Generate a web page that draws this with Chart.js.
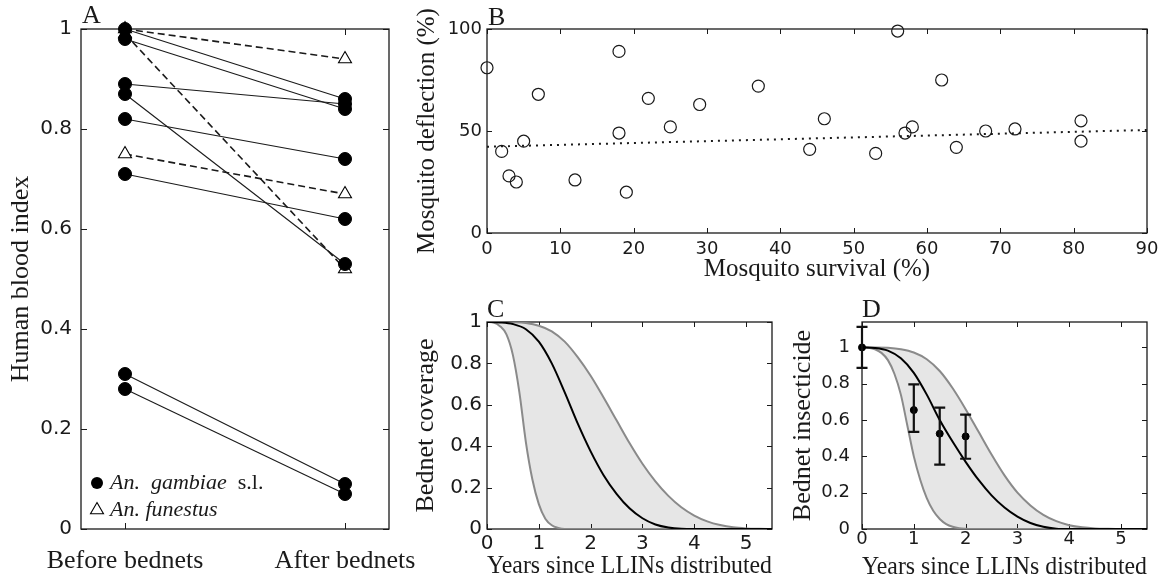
<!DOCTYPE html>
<html><head><meta charset="utf-8">
<script src="https://cdn.jsdelivr.net/npm/chart.js@4/dist/chart.umd.min.js"></script>
<style>
html,body{margin:0;padding:0;background:#fff;}
body{width:1164px;height:578px;position:relative;overflow:hidden;}
canvas{position:absolute;}
</style></head><body>
<canvas id="cA" width="430" height="578" style="left:0;top:0"></canvas>
<canvas id="cB" width="764" height="290" style="left:400px;top:0"></canvas>
<canvas id="cC" width="390" height="288" style="left:400px;top:290px"></canvas>
<canvas id="cD" width="384" height="288" style="left:780px;top:290px"></canvas>
<script>
// ---------- Panel A data ----------
const periodLabels = ['Before bednets', 'After bednets'];
const gambiaeBefore = [1.00, 0.98, 0.89, 0.87, 0.82, 0.71, 0.31, 0.28];
const gambiaeAfter  = [0.86, 0.84, 0.85, 0.53, 0.74, 0.62, 0.09, 0.07];
const funestusBefore = [1.00, 0.99, 0.75];
const funestusAfter  = [0.94, 0.52, 0.67];
const hbiTicks = [0, 0.2, 0.4, 0.6, 0.8, 1];

// ---------- Panel B data ----------
const survival   = [0, 2, 3, 4, 5, 7, 12, 18, 18, 19, 22, 25, 29, 37, 44, 46, 53, 56, 57, 58, 62, 64, 68, 72, 81, 81];
const deflection = [81, 40, 28, 25, 45, 68, 26, 89, 49, 20, 66, 52, 63, 72, 41, 56, 39, 99, 49, 52, 75, 42, 50, 51, 55, 45];
const trendSurvival = [0, 90];
const trendDeflection = [42.3, 50.5];
const survivalTicks = [0, 10, 20, 30, 40, 50, 60, 70, 80, 90];
const deflectionTicks = [0, 50, 100];

// ---------- Panels C & D data ----------
const yearsFine = [0, 0.125, 0.25, 0.375, 0.5, 0.625, 0.75, 0.875, 1, 1.125, 1.25, 1.375, 1.5, 1.625, 1.75, 1.875, 2, 2.125, 2.5, 3, 3.5, 4, 4.5, 5, 5.5];
const yearsCoarse = [0, 0.25, 0.5, 0.75, 1, 1.25, 1.5, 1.75, 2, 2.25, 2.5, 2.75, 3, 3.25, 3.5, 3.75, 4, 4.25, 4.5, 4.75, 5, 5.25, 5.5];
const coverageLow  = [1, 0.997, 0.98, 0.94, 0.84, 0.66, 0.42, 0.24, 0.12, 0.05, 0.018, 0.005, 0, 0, 0, 0, 0, 0, 0, 0, 0, 0, 0, 0, 0];
const coverageMean = [1, 0.998, 0.99, 0.965, 0.905, 0.80, 0.66, 0.51, 0.375, 0.26, 0.17, 0.10, 0.052, 0.022, 0.007, 0.001, 0, 0, 0, 0, 0, 0, 0];
const coverageHigh = [1, 1, 0.999, 0.995, 0.982, 0.955, 0.905, 0.83, 0.74, 0.635, 0.525, 0.415, 0.315, 0.23, 0.16, 0.105, 0.065, 0.037, 0.019, 0.008, 0.003, 0.001, 0];
const insecticideLow  = [1, 0.998, 0.99, 0.97, 0.93, 0.855, 0.74, 0.57, 0.40, 0.27, 0.17, 0.10, 0.055, 0.027, 0.012, 0.004, 0.001, 0, 0, 0, 0, 0, 0, 0, 0];
const insecticideMean = [1, 0.997, 0.982, 0.94, 0.86, 0.74, 0.60, 0.48, 0.37, 0.27, 0.185, 0.118, 0.068, 0.033, 0.012, 0.002, 0, 0, 0, 0, 0, 0, 0];
const insecticideHigh = [1, 1, 0.998, 0.99, 0.972, 0.935, 0.87, 0.775, 0.66, 0.535, 0.41, 0.295, 0.2, 0.13, 0.078, 0.043, 0.021, 0.009, 0.003, 0.001, 0, 0, 0];
const obsYears = [0, 1, 1.5, 2];
const obsInsecticide = [1.0, 0.655, 0.525, 0.51];
const obsLow  = [0.887, 0.535, 0.355, 0.387];
const obsHigh = [1.113, 0.797, 0.668, 0.63];
const yearTicks = [0, 1, 2, 3, 4, 5];
const fractionTicks = [0, 0.2, 0.4, 0.6, 0.8, 1];

// ---------- helpers ----------
const SERIF = '"Liberation Serif","Times New Roman",serif';
const SANS = '"DejaVu Sans",Verdana,sans-serif';
const INK = '#1a1a1a';
const fmt = v => String(Math.round(v * 100) / 100);
const pts = (xs, ys) => xs.map((x, i) => ({x, y: ys[i]}));

function fixed(size, horizontal) {
  return s => {
    if (horizontal) s.height = size; else s.width = size;
    s.paddingLeft = 0; s.paddingRight = 0; s.paddingTop = 0; s.paddingBottom = 0;
  };
}
const useTicks = values => s => { s.ticks = values.map(v => ({value: v})); };

const frameTicks = {
  id: 'frameTicks',
  beforeDatasetsDraw(chart, args, o) {
    const {ctx, chartArea: a, scales} = chart;
    const L = o.len || 5;
    ctx.save();
    ctx.strokeStyle = INK;
    ctx.lineWidth = 1;
    ctx.beginPath();
    scales.x.ticks.forEach((t, i) => {
      const p = Math.round(scales.x.getPixelForTick(i)) + 0.5;
      ctx.moveTo(p, a.bottom); ctx.lineTo(p, a.bottom - L);
      ctx.moveTo(p, a.top); ctx.lineTo(p, a.top + L);
    });
    scales.y.ticks.forEach((t, i) => {
      const p = Math.round(scales.y.getPixelForTick(i)) + 0.5;
      ctx.moveTo(a.left, p); ctx.lineTo(a.left + L, p);
      ctx.moveTo(a.right, p); ctx.lineTo(a.right - L, p);
    });
    ctx.stroke();
    ctx.lineWidth = 1.3;
    ctx.strokeRect(a.left, a.top, a.right - a.left, a.bottom - a.top);
    ctx.restore();
  }
};

const panelLetter = {
  id: 'panelLetter',
  afterDraw(chart, args, o) {
    const {ctx, chartArea: a} = chart;
    ctx.save();
    ctx.font = '26px ' + SERIF;
    ctx.fillStyle = INK;
    ctx.textAlign = 'left';
    ctx.textBaseline = 'alphabetic';
    ctx.fillText(o.text, a.left + (o.dx || 0), a.top + (o.dy || -5));
    ctx.restore();
  }
};

function axis(cfg) {
  return {
    type: 'linear',
    min: cfg.min, max: cfg.max,
    grid: {display: false, drawTicks: false},
    border: {display: false},
    ticks: {
      color: INK, padding: cfg.tickPad, autoSkip: false, maxRotation: 0, minRotation: 0,
      font: cfg.tickFont || {family: SANS, size: cfg.tickSize || 19},
      callback: cfg.callback || (v => fmt(v))
    },
    title: {
      display: true, text: cfg.title, color: INK,
      font: {family: SERIF, size: cfg.titleSize || 26, lineHeight: cfg.titleLH || 1.2},
      padding: cfg.titlePad
    },
    afterBuildTicks: useTicks(cfg.ticks),
    afterFit: fixed(cfg.size, cfg.horizontal)
  };
}

function baseOptions(padding, scales, pluginOpts) {
  return {
    responsive: false, animation: false, devicePixelRatio: 1,
    layout: {padding},
    scales,
    plugins: Object.assign({legend: {display: false}, tooltip: {enabled: false},
      filler: {drawTime: 'beforeDatasetsDraw'}}, pluginOpts)
  };
}

// ---------- Panel A ----------
const legendA = {
  id: 'legendA',
  afterDraw(chart) {
    const {ctx, chartArea: a} = chart;
    const cx = a.left + 16, y1 = a.bottom - 46, y2 = a.bottom - 19;
    ctx.save();
    ctx.fillStyle = '#000';
    ctx.beginPath(); ctx.arc(cx, y1, 6, 0, Math.PI * 2); ctx.fill();
    ctx.strokeStyle = '#000'; ctx.lineWidth = 1.1; ctx.fillStyle = '#fff';
    const r = 7.5;
    ctx.beginPath();
    ctx.moveTo(cx, y2 - r);
    ctx.lineTo(cx + r * 0.866, y2 + r * 0.5);
    ctx.lineTo(cx - r * 0.866, y2 + r * 0.5);
    ctx.closePath(); ctx.fill(); ctx.stroke();
    ctx.fillStyle = INK; ctx.textBaseline = 'middle'; ctx.textAlign = 'left';
    const tx = cx + 13;
    ctx.font = 'italic 22px ' + SERIF;
    const g = 'An.  gambiae ';
    ctx.fillText(g, tx, y1);
    const gw = ctx.measureText(g).width;
    ctx.fillText('An. funestus', tx, y2);
    ctx.font = '22px ' + SERIF;
    ctx.fillText(' s.l.', tx + gw, y1);
    ctx.restore();
  }
};

const dsA = [];
gambiaeBefore.forEach((b, i) => dsA.push({
  data: [{x: 1, y: b}, {x: 2, y: gambiaeAfter[i]}],
  borderColor: INK, borderWidth: 1.1,
  pointRadius: 6.5, pointBackgroundColor: '#000', pointBorderColor: '#000', pointBorderWidth: 1,
  clip: false
}));
funestusBefore.forEach((b, i) => dsA.push({
  data: [{x: 1, y: b}, {x: 2, y: funestusAfter[i]}],
  borderColor: INK, borderWidth: 1.6, borderDash: [7, 4],
  pointStyle: 'triangle', pointRadius: 7.5, pointBackgroundColor: '#fff',
  pointBorderColor: '#000', pointBorderWidth: 1.1,
  clip: false
}));

new Chart(document.getElementById('cA'), {
  type: 'line',
  data: {datasets: dsA},
  options: baseOptions({left: 0, right: 41, top: 29, bottom: 0}, {
    x: axis({min: 0.8, max: 2.2, ticks: [1, 2], tickPad: 17, horizontal: true, size: 49,
      tickFont: {family: SERIF, size: 26}, callback: v => periodLabels[v - 1], title: '', titlePad: 0}),
    y: axis({min: 0, max: 1, ticks: hbiTicks, tickPad: 9, size: 81, tickSize: 20,
      title: 'Human blood index', titlePad: {top: 6}})
  }, {frameTicks: {len: 6}, panelLetter: {text: 'A', dx: 1, dy: -6}}),
  plugins: [frameTicks, panelLetter, legendA]
});

// ---------- Panel B ----------
new Chart(document.getElementById('cB'), {
  type: 'scatter',
  data: {datasets: [
    {data: pts(survival, deflection), pointRadius: 6, pointBorderWidth: 1.2,
     pointBorderColor: INK, pointBackgroundColor: 'rgba(0,0,0,0)', clip: false},
    {type: 'line', data: pts(trendSurvival, trendDeflection), borderColor: INK, borderWidth: 2,
     borderDash: [2, 5], pointRadius: 0, showLine: true}
  ]},
  options: baseOptions({left: 0, right: 17, top: 29, bottom: 0}, {
    x: axis({min: 0, max: 90, ticks: survivalTicks, tickPad: 6, horizontal: true, size: 57,
      tickSize: 18, titleSize: 25, title: 'Mosquito survival (%)', titlePad: {bottom: 6}}),
    y: axis({min: 0, max: 100, ticks: deflectionTicks, tickPad: 5, size: 87,
      tickSize: 18, titleSize: 25, title: 'Mosquito deflection (%)', titlePad: {top: 12}})
  }, {frameTicks: {len: 5}, panelLetter: {text: 'B', dx: 1, dy: -4}}),
  plugins: [frameTicks, panelLetter]
});

// ---------- Panels C and D ----------
function bandDatasets(mean, high, low) {
  return [
    {data: pts(yearsCoarse, mean), borderColor: '#000', borderWidth: 2, pointRadius: 0,
     cubicInterpolationMode: 'monotone', fill: false},
    {data: pts(yearsCoarse, high), borderColor: '#8a8a8a', borderWidth: 2, pointRadius: 0,
     cubicInterpolationMode: 'monotone', fill: {target: 2}, backgroundColor: '#e6e6e6'},
    {data: pts(yearsFine, low), borderColor: '#8a8a8a', borderWidth: 2, pointRadius: 0,
     cubicInterpolationMode: 'monotone', fill: false}
  ];
}

new Chart(document.getElementById('cC'), {
  type: 'line',
  data: {datasets: bandDatasets(coverageMean, coverageHigh, coverageLow)},
  options: baseOptions({left: 0, right: 18, top: 32, bottom: 0}, {
    x: axis({min: 0, max: 5.5, ticks: yearTicks, tickPad: 3, horizontal: true, size: 49,
      tickSize: 20, title: 'Years since LLINs distributed', titlePad: {bottom: 1}, titleLH: 0.8}),
    y: axis({min: 0, max: 1, ticks: fractionTicks, tickPad: 5, size: 87, tickSize: 20,
      title: 'Bednet coverage', titlePad: {top: 11}})
  }, {frameTicks: {len: 5}, panelLetter: {text: 'C', dx: 0, dy: -5}}),
  plugins: [frameTicks, panelLetter]
});

const errorBars = {
  id: 'errorBars',
  afterDatasetsDraw(chart) {
    const {ctx, scales: {x, y}} = chart;
    ctx.save();
    ctx.strokeStyle = '#111'; ctx.lineWidth = 2.2;
    obsYears.forEach((t, i) => {
      const px = x.getPixelForValue(t);
      const lo = y.getPixelForValue(obsLow[i]), hi = y.getPixelForValue(obsHigh[i]);
      ctx.beginPath();
      ctx.moveTo(px, lo); ctx.lineTo(px, hi);
      ctx.moveTo(px - 5.5, lo); ctx.lineTo(px + 5.5, lo);
      ctx.moveTo(px - 5.5, hi); ctx.lineTo(px + 5.5, hi);
      ctx.stroke();
    });
    ctx.restore();
  }
};

const dsD = bandDatasets(insecticideMean, insecticideHigh, insecticideLow);
dsD.unshift({data: pts(obsYears, obsInsecticide), showLine: false, pointRadius: 3.5,
  pointBackgroundColor: '#000', pointBorderColor: '#000', clip: false});
dsD[2].fill = {target: 3};

new Chart(document.getElementById('cD'), {
  type: 'line',
  data: {datasets: dsD},
  options: baseOptions({left: 0, right: 17, top: 32, bottom: 0}, {
    x: axis({min: 0, max: 5.5, ticks: yearTicks, tickPad: 0, horizontal: true, size: 49,
      tickSize: 18, titleSize: 25.5, title: 'Years since LLINs distributed', titlePad: {bottom: 1}, titleLH: 0.8}),
    y: axis({min: 0, max: 1.14, ticks: fractionTicks, tickPad: 12, size: 82, tickSize: 18,
      title: 'Bednet insecticide', titlePad: {top: 8}})
  }, {frameTicks: {len: 5}, panelLetter: {text: 'D', dx: 0, dy: -5}}),
  plugins: [frameTicks, panelLetter, errorBars]
});
</script>
</body></html>
